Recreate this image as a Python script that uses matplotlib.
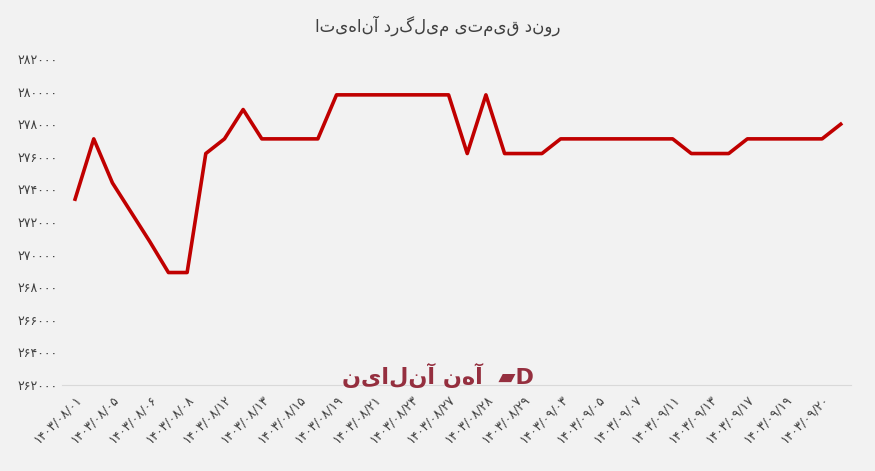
import matplotlib
matplotlib.use("Agg")
import matplotlib.pyplot as plt

values = [273400, 277100, 274400, 272600, 270800, 268900, 268900, 276200, 277100, 278900,
          277100, 277100, 277100, 277100, 279800, 279800, 279800, 279800, 279800, 279800,
          279800, 276200, 279800, 276200, 276200, 276200, 277100, 277100, 277100, 277100,
          277100, 277100, 277100, 276200, 276200, 276200, 277100, 277100, 277100, 277100,
          277100, 278000]
tick_labels = ["۱۴۰۳/۰۸/۰۱", "۱۴۰۳/۰۸/۰۵", "۱۴۰۳/۰۸/۰۶", "۱۴۰۳/۰۸/۰۸", "۱۴۰۳/۰۸/۱۲",
               "۱۴۰۳/۰۸/۱۳", "۱۴۰۳/۰۸/۱۵", "۱۴۰۳/۰۸/۱۹", "۱۴۰۳/۰۸/۲۱", "۱۴۰۳/۰۸/۲۳",
               "۱۴۰۳/۰۸/۲۷", "۱۴۰۳/۰۸/۲۸", "۱۴۰۳/۰۸/۲۹", "۱۴۰۳/۰۹/۰۳", "۱۴۰۳/۰۹/۰۵",
               "۱۴۰۳/۰۹/۰۷", "۱۴۰۳/۰۹/۱۱", "۱۴۰۳/۰۹/۱۳", "۱۴۰۳/۰۹/۱۷", "۱۴۰۳/۰۹/۱۹",
               "۱۴۰۳/۰۹/۲۰"]
title = "روند قیمتی میلگرد آناهیتا"
watermark = "آهن آنلاین"

def fa_digits(n):
    return str(n).translate(str.maketrans("0123456789", "۰۱۲۳۴۵۶۷۸۹"))

def vis(s):
    return s[::-1]

fig = plt.figure(figsize=(8.75, 4.71), dpi=100, facecolor="#f2f2f2")
ax = fig.add_axes([62/875, 1-385/471, (851-62)/875, (385-59)/471])
ax.set_facecolor("#f2f2f2")
x = list(range(len(values)))
ax.plot(x, values, color="#c00000", lw=2.6)
ax.set_ylim(262000, 282000)
yt = list(range(262000, 282001, 2000))
ax.set_yticks(yt)
ax.set_yticklabels([fa_digits(v) for v in yt], fontsize=9, color="#404040")
ax.set_xlim(-0.7, 41.55)
ax.set_xticks(list(range(0, 42, 2)))
ax.set_xticklabels(tick_labels, rotation=45, ha="right", rotation_mode="anchor",
                   fontsize=9, color="#404040")
for s in ["top", "right", "left"]:
    ax.spines[s].set_visible(False)
ax.spines["bottom"].set_color("#d9d9d9")
ax.tick_params(axis="both", length=0)
ax.tick_params(axis="x", pad=6)
fig.text(0.5, 0.945, vis(title), ha="center", va="center", fontsize=12, color="#404040")
fig.text(0.5, 1-375/471, vis(watermark) + "  ▰D", ha="center", va="center",
         fontsize=16, color="#8b1a2b", alpha=0.9, fontweight="bold")
fig.savefig("out.png", dpi=100, facecolor=fig.get_facecolor())
